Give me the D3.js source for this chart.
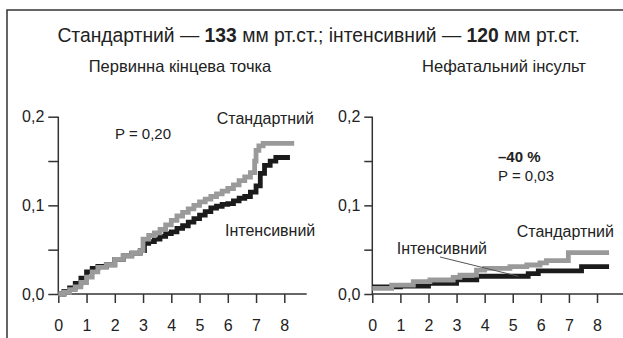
<!DOCTYPE html>
<html>
<head>
<meta charset="utf-8">
<script src="https://cdn.jsdelivr.net/npm/d3@7/dist/d3.min.js"></script>
<style>
  html, body { margin: 0; padding: 0; background: #fff; }
  svg { display: block; }
  text { font-family: "Liberation Sans", Arial, sans-serif; fill: #222; }
</style>
</head>
<body>
<script>
// Cumulative incidence (Kaplan–Meier style), years of follow-up vs proportion with event.
const yearTicks = [0, 1, 2, 3, 4, 5, 6, 7, 8];
const yTicks = [0, 0.05, 0.1, 0.15, 0.2];
const yTickLabels = {0: "0,0", 0.1: "0,1", 0.2: "0,2"};

// Primary endpoint
const primaryStdT = [0, 0.2, 0.4, 0.6, 0.8, 1.0, 1.2, 1.4, 1.7, 2.0, 2.3, 2.6, 2.9, 3.0, 3.2, 3.4, 3.6, 3.8, 4.0, 4.2, 4.4, 4.6, 4.8, 5.0, 5.2, 5.4, 5.6, 5.8, 6.0, 6.2, 6.4, 6.6, 6.8, 6.95, 7.0, 7.1, 7.25, 8.35];
const primaryStdV = [0, 0.002, 0.005, 0.008, 0.013, 0.019, 0.025, 0.030, 0.033, 0.039, 0.043, 0.046, 0.049, 0.062, 0.066, 0.069, 0.073, 0.078, 0.083, 0.088, 0.092, 0.096, 0.100, 0.104, 0.107, 0.110, 0.113, 0.116, 0.119, 0.123, 0.128, 0.132, 0.137, 0.150, 0.162, 0.167, 0.170, 0.170];
const primaryIntT = [0, 0.2, 0.4, 0.6, 0.8, 1.0, 1.2, 1.4, 1.7, 2.0, 2.3, 2.6, 2.9, 3.05, 3.2, 3.4, 3.6, 3.8, 4.0, 4.2, 4.4, 4.6, 4.8, 5.0, 5.2, 5.4, 5.6, 5.8, 6.0, 6.2, 6.4, 6.6, 6.8, 7.0, 7.15, 7.3, 7.5, 7.7, 8.2];
const primaryIntV = [0, 0.003, 0.007, 0.012, 0.018, 0.025, 0.029, 0.031, 0.033, 0.039, 0.043, 0.046, 0.049, 0.057, 0.059, 0.062, 0.065, 0.068, 0.070, 0.074, 0.077, 0.081, 0.085, 0.089, 0.093, 0.097, 0.099, 0.101, 0.102, 0.105, 0.108, 0.110, 0.115, 0.122, 0.136, 0.145, 0.150, 0.154, 0.154];

// Nonfatal stroke
const strokeStdT = [0, 0.69, 1.46, 2.05, 2.88, 3.12, 3.71, 4.0, 4.9, 5.5, 5.97, 6.2, 6.98, 8.43];
const strokeStdV = [0.0064, 0.010, 0.0139, 0.0158, 0.0188, 0.0214, 0.027, 0.029, 0.0308, 0.0327, 0.035, 0.0376, 0.0466, 0.0466];
const strokeIntT = [0, 1.0, 2.0, 3.0, 3.72, 5.55, 5.91, 7.45, 8.43];
const strokeIntV = [0.008, 0.009, 0.012, 0.016, 0.020, 0.023, 0.026, 0.0308, 0.0308];

const W = 623, H = 338;
const GREY = "#9a9a9a", BLACK = "#1b1b1b", AXIS = "#333";
const FONT = "Liberation Sans, Arial, sans-serif";

const svg = d3.select("body").append("svg").attr("width", W).attr("height", H);

// frame (top and left edges)
svg.append("path").attr("d", `M7,${H} V10 H${W}`)
  .attr("fill", "none").attr("stroke", AXIS).attr("stroke-width", 1.5);

// heading
const title = svg.append("text").attr("x", 318.7).attr("y", 41.5)
  .attr("text-anchor", "middle").style("font-size", "19.3px");
title.append("tspan").text("Стандартний — ");
title.append("tspan").attr("font-weight", "bold").text("133");
title.append("tspan").text(" мм рт.ст.; інтенсивний — ");
title.append("tspan").attr("font-weight", "bold").text("120");
title.append("tspan").text(" мм рт.ст.");

const y = d3.scaleLinear().domain([0, 0.2]).range([294, 116.7]);

function panel(opts) {
  const x = d3.scaleLinear().domain([0, 8]).range(opts.xRange);
  const g = svg.append("g");

  g.append("text").attr("x", opts.subX).attr("y", 71.5)
    .attr("text-anchor", "middle").style("font-size", "16.5px").text(opts.subtitle);

  // x axis: line runs beyond the last tick
  g.append("line").attr("x1", x(0)).attr("x2", opts.axisEnd)
    .attr("y1", y(0)).attr("y2", y(0)).attr("stroke", AXIS).attr("stroke-width", 1.5);
  const xa = g.append("g").attr("transform", `translate(0,${y(0)})`)
    .call(d3.axisBottom(x).tickValues(yearTicks).tickSize(9).tickPadding(17).tickFormat(d3.format("d")));
  xa.select(".domain").remove();
  xa.selectAll("line").attr("stroke", AXIS).attr("stroke-width", 1.5);
  xa.selectAll("text").style("font-size", "16px").style("font-family", FONT).attr("fill", "#222");

  const ya = g.append("g").attr("transform", `translate(${x(0)},0)`)
    .call(d3.axisLeft(y).tickValues(yTicks).tickSize(opts.yTick).tickPadding(4)
      .tickFormat(d => yTickLabels[d] || ""));
  ya.select(".domain").attr("stroke", AXIS).attr("stroke-width", 1.5)
    .attr("d", `M0,${y(0.2)} V${y(0)}`);
  ya.selectAll("line").attr("stroke", AXIS).attr("stroke-width", 1.5);
  ya.selectAll("text").style("font-size", "16px").style("font-family", FONT).attr("fill", "#222");

  const line = d3.line().curve(d3.curveStepAfter).x(d => x(d[0])).y(d => y(d[1]));
  const draw = (t, v, color) => g.append("path")
    .datum(t.map((ti, i) => [ti, v[i]]))
    .attr("d", line).attr("fill", "none").attr("stroke", color)
    .attr("stroke-width", 4.8).attr("stroke-linejoin", "miter");
  draw(opts.intT, opts.intV, BLACK);
  draw(opts.stdT, opts.stdV, GREY);

  return {g, x};
}

const left = panel({
  xRange: [58.3, 284.3], axisEnd: 306.7, yTick: 10, subX: 180,
  subtitle: "Первинна кінцева точка",
  stdT: primaryStdT, stdV: primaryStdV, intT: primaryIntT, intV: primaryIntV
});
left.g.append("text").attr("x", 115).attr("y", 138.5).style("font-size", "15px").text("P = 0,20");
left.g.append("text").attr("x", 314).attr("y", 124).attr("text-anchor", "end").style("font-size", "16px").text("Стандартний");
left.g.append("text").attr("x", 315.3).attr("y", 236).attr("text-anchor", "end").style("font-size", "16px").text("Інтенсивний");

const right = panel({
  xRange: [372.3, 597], axisEnd: W, yTick: 8, subX: 504,
  subtitle: "Нефатальний інсульт",
  stdT: strokeStdT, stdV: strokeStdV, intT: strokeIntT, intV: strokeIntV
});
right.g.append("text").attr("x", 498).attr("y", 162).attr("font-weight", "bold").style("font-size", "15px").text("–40 %");
right.g.append("text").attr("x", 498).attr("y", 180.5).style("font-size", "15px").text("P = 0,03");
right.g.append("text").attr("x", 614).attr("y", 237).attr("text-anchor", "end").style("font-size", "16px").text("Стандартний");
right.g.append("text").attr("x", 396.7).attr("y", 253.5).style("font-size", "16px").text("Інтенсивний");
// leader from the label to the intensive-arm curve
right.g.append("line").attr("x1", 440).attr("y1", 257)
  .attr("x2", right.x(5.2)).attr("y2", y(0.02))
  .attr("stroke", "#555").attr("stroke-width", 1);
</script>
</body>
</html>
